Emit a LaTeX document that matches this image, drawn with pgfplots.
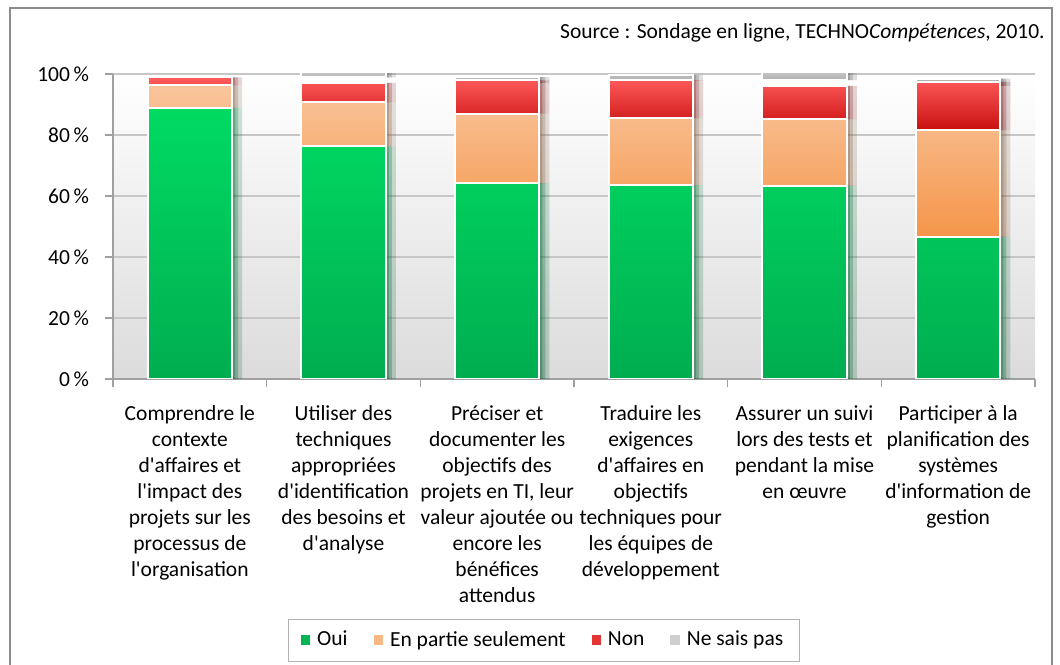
\documentclass[border=0pt]{standalone}
\usepackage{pgfplots}
\pgfplotsset{compat=1.18}
\usepackage{fontspec}
\setmainfont{Carlito}
\definecolor{gtop}{HTML}{00DB62}\definecolor{gbot}{HTML}{00AD50}
\definecolor{otop}{HTML}{F9C59C}\definecolor{obot}{HTML}{F5964A}
\definecolor{rtop}{HTML}{FF5C5C}\definecolor{rbot}{HTML}{C80F0F}
\definecolor{ktop}{HTML}{CFCFCF}\definecolor{kbot}{HTML}{A0A0A0}
\definecolor{gridc}{HTML}{C6C6C6}
\definecolor{axc}{HTML}{A0A0A0}
\newcommand{\ap}{\textquotesingle{}}
\begin{document}
\begin{tikzpicture}[x=1pt,y=1pt]
\useasboundingbox (0,0) rectangle (530,332);
\fill[white] (0,0) rectangle (530,332);
\draw[color=black!45, line width=0.8pt] (5,-2) -- (5,328) -- (526,328) -- (526,-2);
\node[anchor=east, inner sep=0pt, font=\fontsize{10.75}{13}\selectfont] at (522.5,315.5) {Source : Sondage en ligne, TECHNO\textit{Compétences}, 2010.};
\begin{axis}[
  at={(56.5pt,142.5pt)}, anchor=south west,
  scale only axis, width=461pt, height=152.5pt,
  ybar stacked, bar width=0.55,
  xmin=-0.5, xmax=5.5, ymin=0, ymax=100,
  axis x line*=bottom, axis y line*=left,
  axis line style={draw=axc, line width=0.7pt},
  axis background/.style={top color=white, bottom color=black!14},
  ytick={0,20,...,100},
  /pgf/number format/assume math mode=true,
  yticklabel={\pgfmathprintnumber{\tick}\,\%},
  ymajorgrids, major grid style={draw=gridc, line width=0.7pt},
  ytick style={draw=axc, line width=0.7pt}, major tick length=4pt,
  ytick align=outside,
  xtick={0,...,5},
  major x tick style={draw=none},
  minor xtick={-0.5,0.5,...,5.5},
  minor x tick style={draw=axc, line width=0.7pt},
  minor tick length=4pt, xtick align=outside,
  xticklabels={
    {Comprendre le\\contexte\\d\ap affaires et\\l\ap impact des\\projets sur les\\processus de\\l\ap organisation},
    {Utiliser des\\techniques\\appropriées\\d\ap identification\\des besoins et\\d\ap analyse},
    {Préciser et\\documenter les\\objectifs des\\projets en TI, leur\\valeur ajoutée ou\\encore les\\bénéfices\\attendus},
    {Traduire les\\exigences\\d\ap affaires en\\objectifs\\techniques pour\\les équipes de\\développement},
    {Assurer un suivi\\lors des tests et\\pendant la mise\\en œuvre},
    {Participer à la\\planification des\\systèmes\\d\ap information de\\gestion}},
  xticklabel style={align=center, font=\fontsize{10.75}{13}\selectfont, anchor=north, yshift=-6pt},
  yticklabel style={font=\fontsize{10.75}{13}\selectfont, xshift=-4.5pt},
  legend columns=4,
  legend style={at={(0.4675,-0.856)}, anchor=center, draw=black!30, fill=white,
    font=\fontsize{10.75}{13}\selectfont, /tikz/every even column/.append style={column sep=11pt},
    inner xsep=6pt, inner ysep=4pt},
  legend image code/.code={\fill[#1, draw=none] (0pt,-2.3pt) rectangle (4.6pt,2.3pt); \path (6pt,0pt);},
  barshadow/.style={draw=white, line width=1pt,
     preaction={fill=black, fill opacity=0.10, draw=none, transform canvas={xshift=5pt}},
     preaction={fill=black, fill opacity=0.14, draw=none, transform canvas={xshift=3pt}},
     preaction={fill=black, fill opacity=0.18, draw=none, transform canvas={xshift=1.5pt}}},
]
\addplot[barshadow, top color=gtop, bottom color=gbot, forget plot] coordinates {(0,89.0) (1,76.3) (2,64.2) (3,63.6) (4,63.3) (5,46.6)};
\addplot[barshadow, top color=otop, bottom color=obot, forget plot] coordinates {(0,7.3) (1,14.4) (2,22.8) (3,21.9) (4,21.9) (5,35.0)};
\addplot[barshadow, top color=rtop, bottom color=rbot, forget plot] coordinates {(0,2.6) (1,6.4) (2,10.9) (3,12.5) (4,10.9) (5,15.8)};
\addplot[barshadow, top color=ktop, bottom color=kbot, forget plot] coordinates {(1,2.7) (2,1.9) (3,1.8) (4,3.7) (5,2.4)};
\addlegendimage{fill=gbot!80!gtop}
\addlegendentry{Oui}
\addlegendimage{fill=otop!70!obot}
\addlegendentry{En partie seulement}
\addlegendimage{fill=rbot!50!rtop}
\addlegendentry{Non}
\addlegendimage{fill=ktop}
\addlegendentry{Ne sais pas}
\end{axis}
\end{tikzpicture}
\end{document}
